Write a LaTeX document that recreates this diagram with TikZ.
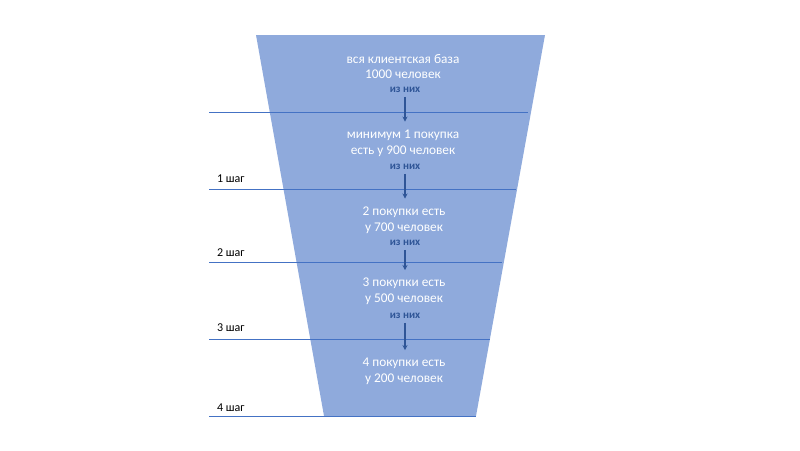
\documentclass[tikz,border=0pt]{standalone}
\usepackage{fontspec}
\setmainfont{Carlito}
\usetikzlibrary{arrows.meta}
\definecolor{funnelfill}{RGB}{143,170,220}
\definecolor{lineblue}{RGB}{68,114,196}
\definecolor{darkblue}{RGB}{47,85,151}
\tikzset{
  blocktext/.style={text=white, align=center, font=\fontsize{13.3}{15.8}\selectfont, inner sep=0pt},
  fromtext/.style={text=darkblue, font=\bfseries\fontsize{11}{12}\selectfont, inner sep=0pt},
  steplabel/.style={text=black, anchor=west, font=\fontsize{12}{13}\selectfont, inner sep=0pt},
  levelline/.style={draw=lineblue, line width=0.9pt},
  flowarrow/.style={draw=darkblue, line width=1.2pt, -{Stealth[length=5pt,width=5pt]}, shorten <=4pt, shorten >=8pt}
}
\begin{document}
\begin{tikzpicture}[x=1pt,y=-1pt]
\useasboundingbox (0,0) rectangle (800,450);
\fill[funnelfill] (256,35) -- (545,35) -- (476,416) -- (324,416) -- cycle;

% level lines
\coordinate (l0a) at (209,112); \coordinate (l0b) at (528,112);
\coordinate (l1a) at (209,189); \coordinate (l1b) at (516,189);
\coordinate (l2a) at (209,262); \coordinate (l2b) at (502,262);
\coordinate (l3a) at (209,339); \coordinate (l3b) at (490,339);
\coordinate (l4a) at (209,416); \coordinate (l4b) at (476,416);
\draw[levelline] (l0a) -- (l0b);
\draw[levelline] (l1a) -- (l1b);
\draw[levelline] (l2a) -- (l2b);
\draw[levelline] (l3a) -- (l3b);
\draw[levelline] (l4a) -- (l4b);

% step labels
\node[steplabel] (s1) at (217,179) {1 шаг};
\node[steplabel] (s2) at (217,253) {2 шаг};
\node[steplabel] (s3) at (217,328) {3 шаг};
\node[steplabel] (s4) at (217,408) {4 шаг};

% blocks
\node[blocktext] (b1) at (403,66.5) {вся клиентская база\\1000 человек};
\node[fromtext] (f1) at (405,90) {из них};
\node[blocktext] (b2) at (403,143) {минимум 1 покупка\\есть у 900 человек};
\node[fromtext] (f2) at (405,167) {из них};
\node[blocktext] (b3) at (404,220) {2 покупки есть\\у 700 человек};
\node[fromtext] (f3) at (405,243) {из них};
\node[blocktext] (b4) at (404,291.5) {3 покупки есть\\у 500 человек};
\node[fromtext] (f4) at (405,316) {из них};
\node[blocktext] (b5) at (404,371.5) {4 покупки есть\\у 200 человек};

% arrows
\draw[flowarrow] (f1.south) -- (f1.south |- b2.north);
\draw[flowarrow] (f2.south) -- (f2.south |- b3.north);
\draw[flowarrow] (f3.south) -- (f3.south |- b4.north);
\draw[flowarrow] (f4.south) -- (f4.south |- b5.north);
\end{tikzpicture}
\end{document}
